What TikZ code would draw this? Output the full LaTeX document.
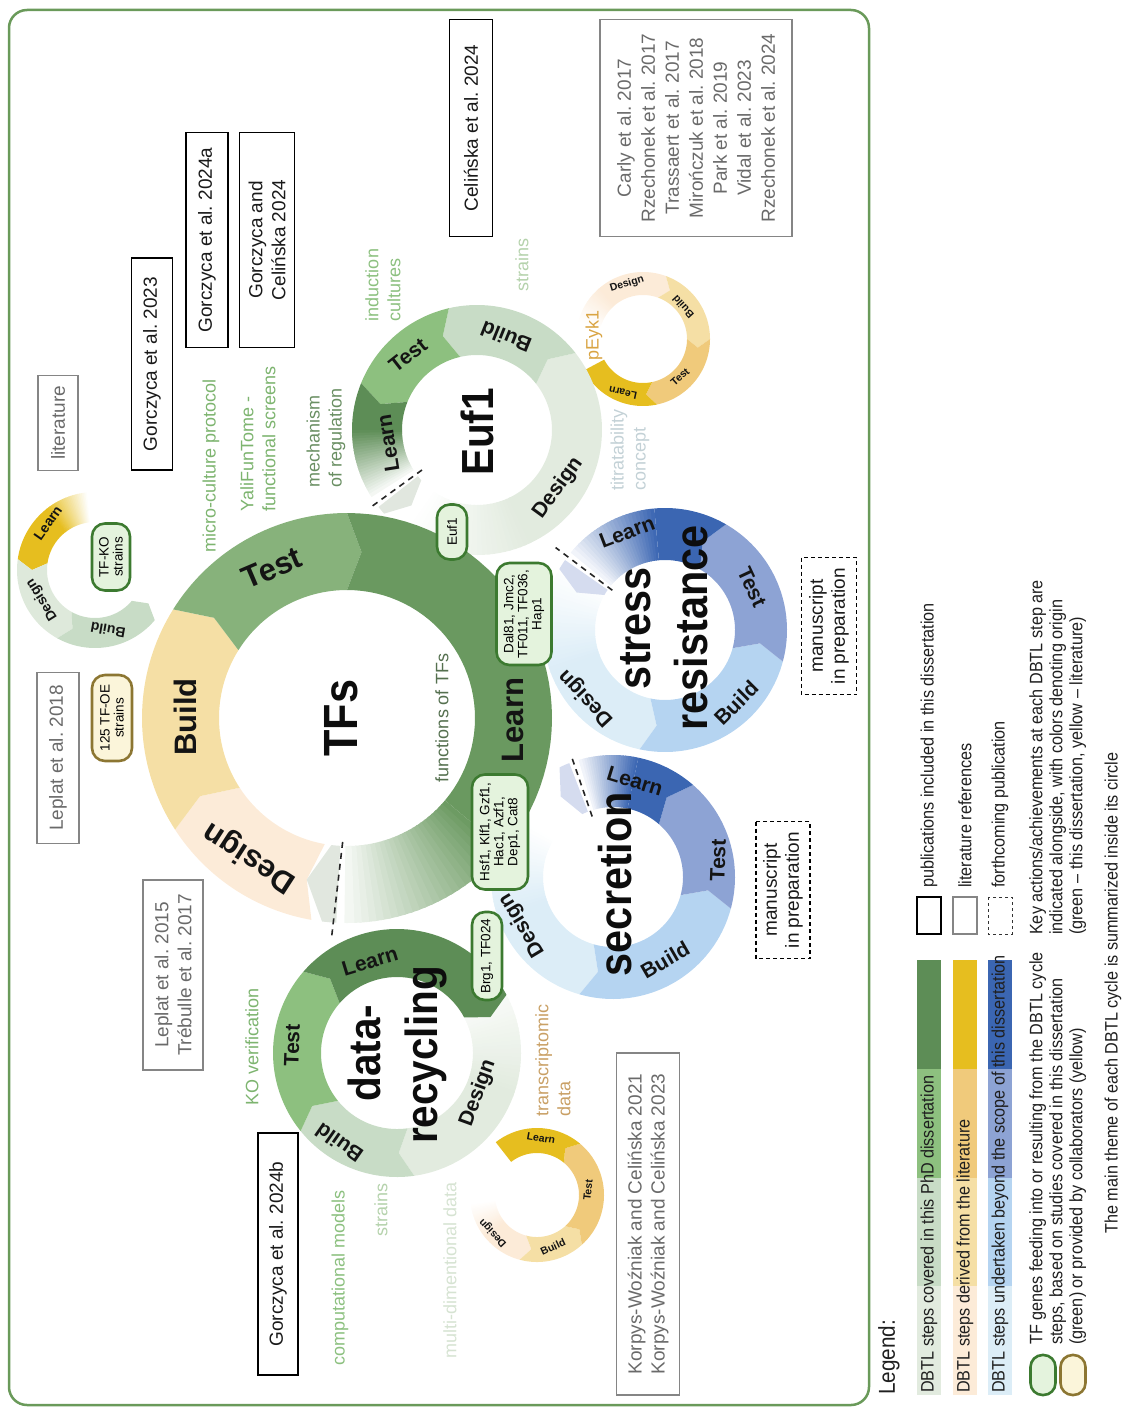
\documentclass[tikz,border=0pt]{standalone}
\usepackage{fontspec}
\setmainfont{Liberation Sans}
\newfontfamily\legfont{Liberation Sans}[FakeStretch=0.9]
\newfontfamily\themefont{Liberation Sans}[FakeStretch=0.9]
\frenchspacing

\definecolor{frameG}{HTML}{6A9A5A}
\definecolor{gD}{HTML}{E2EBDF}
\definecolor{gB}{HTML}{C8DCC6}
\definecolor{gT}{HTML}{8DC07F}
\definecolor{gL}{HTML}{5D8D56}
\definecolor{tfT}{HTML}{87B27B}
\definecolor{tfL}{HTML}{6A9960}
\definecolor{yD}{HTML}{FCEBD8}
\definecolor{yB}{HTML}{F5DFA5}
\definecolor{yT}{HTML}{F0CA7B}
\definecolor{yL}{HTML}{E6BE1F}
\definecolor{bD}{HTML}{DCEDF7}
\definecolor{bB}{HTML}{B5D4F1}
\definecolor{bT}{HTML}{8DA3D4}
\definecolor{bL}{HTML}{3B66B2}
\definecolor{ghostG}{HTML}{E1E7DF}
\definecolor{ghostB}{HTML}{D5DCEF}
\definecolor{pillGd}{HTML}{3C7A30}
\definecolor{pillGf}{HTML}{E4F3DD}
\definecolor{pillYd}{HTML}{8C7632}
\definecolor{pillYf}{HTML}{FBF5DA}
\definecolor{litBorder}{HTML}{858585}
\definecolor{litText}{HTML}{6A6A6A}
\definecolor{noteA}{HTML}{7DB46F}
\definecolor{noteB}{HTML}{8CC07F}
\definecolor{noteC}{HTML}{6A8F63}
\definecolor{notePale}{HTML}{B5D2AC}
\definecolor{noteVpale}{HTML}{D6E3D2}
\definecolor{noteOr}{HTML}{D9A443}
\definecolor{noteTit}{HTML}{C3D1D6}
\definecolor{noteDark}{HTML}{55704F}
\definecolor{noteTan}{HTML}{C9A065}

% Annular chevron segment.
% #1,#2 centre; #3 inner radius; #4 outer radius; #5 start angle; #6 end angle
% (angles grow clockwise on the page); #7 notch depth at the start;
% #8 tip length at the end (degrees); #9 fill colour
\newcommand\ringseg[9]{%
  \pgfmathsetmacro\segmid{(#3+#4)/2}%
  \pgfmathsetmacro\segsgn{(#6>#5) ? 1 : -1}%
  \pgfmathsetmacro\segtipA{#5+\segsgn*#7}%
  \pgfmathsetmacro\segtipB{#6+\segsgn*#8}%
  \fill[#9] plot[domain=#5:#6,samples=40] ({#1+#4*cos(\x)},{#2+#4*sin(\x)})
    -- ({#1+\segmid*cos(\segtipB)},{#2+\segmid*sin(\segtipB)})
    -- plot[domain=#6:#5,samples=40] ({#1+#3*cos(\x)},{#2+#3*sin(\x)})
    -- ({#1+\segmid*cos(\segtipA)},{#2+\segmid*sin(\segtipA)}) -- cycle;%
}
% Annular band whose colour runs from #8 % to #9 % of colour #7 (rest white)
\newcommand\ringfade[9]{%
  \foreach \k in {0,...,23}{%
    \pgfmathsetmacro\fadeA{#5+(#6-(#5))*\k/24}%
    \pgfmathsetmacro\fadeB{#5+(#6-(#5))*(\k+1.35)/24}%
    \pgfmathsetmacro\fadeP{#8+(#9-(#8))*(\k+0.5)/24}%
    \fill[#7!\fadeP!white] plot[domain=\fadeA:\fadeB,samples=5] ({#1+#4*cos(\x)},{#2+#4*sin(\x)})
      -- plot[domain=\fadeB:\fadeA,samples=5] ({#1+#3*cos(\x)},{#2+#3*sin(\x)}) -- cycle;%
  }%
}

\begin{document}
\begin{tikzpicture}[x=1pt,y=-1pt,
  refbox/.style={draw=black, line width=1.3pt, rotate=90, align=center, inner sep=0pt,
    text=black!90, font=\fontsize{19}{23}\selectfont},
  litbox/.style={refbox, draw=litBorder, text=litText},
  litlist/.style={litbox, font=\fontsize{19}{24}\selectfont},
  msbox/.style={refbox, dash pattern=on 4pt off 3pt, line width=1.2pt, font=\fontsize{19}{22}\selectfont},
  annot/.style={rotate=90, inner sep=0pt, align=left, font=\fontsize{18}{22}\selectfont},
  pillbase/.style={rotate=90, rectangle, rounded corners=13pt, line width=2.6pt, align=center,
    inner sep=1pt, font=\fontsize{13.5}{14}\selectfont},
  pillG/.style={pillbase, draw=pillGd, fill=pillGf},
  pillY/.style={pillbase, draw=pillYd, fill=pillYf},
  biglab/.style={inner sep=0pt, text=black!92, font=\bfseries\fontsize{31}{34}\selectfont},
  midlab/.style={inner sep=0pt, text=black!92, font=\bfseries\fontsize{21}{24}\selectfont},
  smalllab/.style={inner sep=0pt, text=black!92, font=\bfseries\fontsize{14}{16}\selectfont},
  tinylab/.style={inner sep=0pt, text=black!92, font=\bfseries\fontsize{10.5}{12}\selectfont},
  theme/.style={rotate=90, anchor=base, inner sep=0pt, text=black!95},
  cutline/.style={draw=black!85, line width=1.6pt, dash pattern=on 6pt off 5pt},
  legtext/.style={rotate=90, inner sep=0pt, text=black!88, font=\legfont\fontsize{18}{20}\selectfont}
]
\useasboundingbox (0,0) rectangle (1129,1407);

% outer frame
\draw[frameG, line width=2.5pt, rounded corners=18pt] (9,10) rectangle (869,1405);

% ---------- small literature/dissertation rings ----------
% ring beside the TF-KO strains
\ringfade{95}{570}{48}{78}{264}{232}{yL}{0}{100}
\ringseg{95}{570}{48}{78}{232}{188}{0}{8}{yL}
\ringseg{95}{570}{48}{78}{188}{119}{8}{8}{gD!85!gB}
\ringseg{95}{570}{48}{78}{119}{40}{8}{8}{gB}
% pEyk1 ring
\ringfade{643}{339}{44}{67}{-165}{-130}{yD}{0}{100}
\ringseg{643}{339}{44}{67}{-130}{-70}{0}{9}{yD}
\ringseg{643}{339}{44}{67}{-70}{0}{9}{9}{yB}
\ringseg{643}{339}{44}{67}{0}{78}{9}{9}{yT}
\ringseg{643}{339}{44}{67}{78}{152}{9}{0}{yL}
% transcriptomic data ring
\ringfade{537}{1195}{42}{67}{172}{140}{yD}{0}{100}
\ringseg{537}{1195}{42}{67}{140}{105}{0}{9}{yD}
\ringseg{537}{1195}{42}{67}{105}{48}{9}{9}{yB}
\ringseg{537}{1195}{42}{67}{48}{-50}{9}{9}{yT}
\ringseg{537}{1195}{42}{67}{-50}{-128}{9}{0}{yL}

% ---------- Euf1 ring ----------
\ringfade{477}{430}{75}{125}{125}{65}{gD}{0}{100}
\ringseg{477}{430}{75}{125}{65}{-38}{0}{7}{gD}
\ringseg{477}{430}{75}{125}{-38}{-103}{7}{7}{gB}
\ringseg{477}{430}{75}{125}{-103}{-158}{7}{7}{gT}
\ringseg{477}{430}{75}{125}{-158}{-180}{7}{0}{gL}
\ringfade{477}{430}{75}{125}{-180}{-212}{gL}{100}{5}
\ringseg{477}{430}{75}{125}{-218}{-222}{0}{7}{ghostG}

% ---------- stress resistance ring ----------
\ringfade{665}{630}{70}{122}{212}{160}{bD}{0}{100}
\ringseg{665}{630}{70}{122}{160}{102}{0}{7}{bD}
\ringseg{665}{630}{70}{122}{102}{15}{7}{7}{bB}
\ringseg{665}{630}{70}{122}{15}{-60}{7}{7}{bT}
\ringseg{665}{630}{70}{122}{-60}{-95}{7}{0}{bL}
\ringfade{665}{630}{70}{122}{-95}{-140}{bL}{100}{5}
\ringseg{665}{630}{70}{122}{-145}{-150}{0}{7}{ghostB}

% ---------- secretion ring ----------
\ringfade{613}{877}{70}{122}{212}{160}{bD}{0}{100}
\ringseg{613}{877}{70}{122}{160}{106}{0}{7}{bD}
\ringseg{613}{877}{70}{122}{106}{15}{7}{7}{bB}
\ringseg{613}{877}{70}{122}{15}{-49}{7}{7}{bT}
\ringseg{613}{877}{70}{122}{-49}{-78}{7}{0}{bL}
\ringfade{613}{877}{70}{122}{-78}{-106}{bL}{100}{5}
\ringseg{613}{877}{70}{122}{-111}{-116}{0}{7}{ghostB}

% ---------- data-recycling ring ----------
\ringfade{397}{1053}{76}{124}{-28}{20}{gD}{25}{100}
\ringseg{397}{1053}{76}{124}{20}{82}{0}{7}{gD}
\ringseg{397}{1053}{76}{124}{82}{141}{7}{7}{gB}
\ringseg{397}{1053}{76}{124}{141}{221}{7}{7}{gT}
\ringseg{397}{1053}{76}{124}{221}{332}{7}{7}{gL}

% ---------- central TFs ring ----------
\ringseg{347}{718}{128}{205}{100}{147}{4}{5}{yD}
\ringseg{347}{718}{128}{205}{147}{212}{5}{5}{yB}
\ringseg{347}{718}{128}{205}{212}{270}{5}{5}{tfT}
\ringseg{347}{718}{128}{205}{270}{400}{5}{0}{tfL}
\ringfade{347}{718}{128}{205}{400}{450}{tfL}{100}{6}
\ringseg{347}{718}{128}{205}{453}{457}{0}{7}{ghostG}

% cycle boundaries
\coordinate (tfsCutA) at ({347+124*cos(92)},{718+124*sin(92)});
\coordinate (tfsCutB) at ({347+218*cos(94)},{718+218*sin(94)});
\coordinate (eufCutA) at ({477+68*cos(144)},{430+68*sin(144)});
\coordinate (eufCutB) at ({477+132*cos(144)},{430+132*sin(144)});
\coordinate (strCutA) at ({665+66*cos(-143)},{630+66*sin(-143)});
\coordinate (strCutB) at ({665+137*cos(-143)},{630+137*sin(-143)});
\coordinate (secCutA) at ({613+64*cos(-109)},{877+64*sin(-109)});
\coordinate (secCutB) at ({613+128*cos(-109)},{877+128*sin(-109)});
\draw[cutline] (tfsCutA) -- (tfsCutB);
\draw[cutline] (eufCutA) -- (eufCutB);
\draw[cutline] (strCutA) -- (strCutB);
\draw[cutline] (secCutA) -- (secCutB);

% ---------- step labels ----------
\node[biglab, rotate=90]  (tfsBuild)  at (185,717) {Build};
\node[biglab, rotate=23]  (tfsTest)   at (272,568) {Test};
\node[biglab, rotate=90]  (tfsLearn)  at (513,720) {Learn};
\node[biglab, rotate=147] (tfsDesign) at (250,857) {Design};

\node[midlab, rotate=99]  (eufLearn)  at (388,443) {Learn};
\node[midlab, rotate=38]  (eufTest)   at (408,355) {Test};
\node[midlab, rotate=158] (eufBuild)  at (506,337) {Build};
\node[midlab, rotate=54]  (eufDesign) at (558,488) {Design};

\node[midlab, rotate=21]  (strLearn)  at (627,532) {Learn};
\node[midlab, rotate=-65] (strTest)   at (752,587) {Test};
\node[midlab, rotate=45]  (strBuild)  at (736,703) {Build};
\node[midlab, rotate=133] (strDesign) at (586,698) {Design};

\node[midlab, rotate=-17] (secLearn)  at (635,781) {Learn};
\node[midlab, rotate=88]  (secTest)   at (718,860) {Test};
\node[midlab, rotate=30]  (secBuild)  at (665,960) {Build};
\node[midlab, rotate=121] (secDesign) at (522,925) {Design};

\node[midlab, rotate=17]  (drLearn)   at (370,961) {Learn};
\node[midlab, rotate=88]  (drTest)    at (292,1045) {Test};
\node[midlab, rotate=145] (drBuild)   at (339,1143) {Build};
\node[midlab, rotate=70]  (drDesign)  at (478,1093) {Design};

\node[smalllab, rotate=55]  (koLearn)  at (48,523) {Learn};
\node[smalllab, rotate=122] (koDesign) at (42,600) {Design};
\node[smalllab, rotate=170] (koBuild)  at (108,630) {Build};

\node[tinylab, rotate=17]  (pyDesign) at (627,284) {Design};
\node[tinylab, rotate=132] (pyBuild)  at (683,307) {Build};
\node[tinylab, rotate=42]  (pyTest)   at (680,377) {Test};
\node[tinylab, rotate=168] (pyLearn)  at (623,393) {Learn};

\node[tinylab, rotate=-10] (trLearn)  at (541,1138) {Learn};
\node[tinylab, rotate=84]  (trTest)   at (588,1190) {Test};
\node[tinylab, rotate=25]  (trBuild)  at (553,1247) {Build};
\node[tinylab, rotate=133] (trDesign) at (493,1233) {Design};

% ---------- cycle themes ----------
\node[theme, font=\themefont\bfseries\fontsize{48}{52}\selectfont] (thTFs) at (357,718) {TFs};
\node[theme, font=\themefont\bfseries\fontsize{45}{49}\selectfont] (thEuf) at (493,432) {Euf1};
\node[theme, font=\themefont\bfseries\fontsize{46}{50}\selectfont] (thStress) at (650,628) {stress};
\node[theme, font=\themefont\bfseries\fontsize{46}{50}\selectfont] (thResist) at (707,628) {resistance};
\node[theme, font=\themefont\bfseries\fontsize{46}{50}\selectfont] (thSecr) at (631,884) {secretion};
\node[theme, font=\themefont\bfseries\fontsize{45}{49}\selectfont] (thData) at (380,1053) {data-};
\node[theme, font=\themefont\bfseries\fontsize{45}{49}\selectfont] (thRecyc) at (437,1055) {recycling};

% ---------- TF gene pills ----------
\node[pillG, minimum width=55, minimum height=30] (pEuf) at (452,532) {Euf1};
\node[pillG, minimum width=102, minimum height=55] (pDal) at (524,614) {Dal81, Jmc2,\\TF011, TF036,\\Hap1};
\node[pillG, minimum width=115, minimum height=56] (pHsf) at (500,832) {Hsf1, Klf1, Gzf1,\\Hac1, Azf1,\\Dep1, Cat8};
\node[pillG, minimum width=88, minimum height=30] (pBrg) at (487,956) {Brg1, TF024};
\node[pillG, minimum width=67, minimum height=38] (pKO) at (111,557) {TF-KO\\strains};
\node[pillY, minimum width=86, minimum height=40] (pOE) at (112,718) {125 TF-OE\\strains};

% ---------- references ----------
\node[litbox, minimum width=95, minimum height=40] (refLit) at (58,423) {literature};
\node[refbox, minimum width=212, minimum height=41] (refG23) at (152,364) {Gorczyca et al. 2023};
\node[refbox, minimum width=215, minimum height=42] (refG24a) at (207,240) {Gorczyca et al. 2024a};
\node[refbox, minimum width=215, minimum height=55] (refGC24) at (267,240) {Gorczyca and\\Celińska 2024};
\node[refbox, minimum width=217, minimum height=43] (refC24) at (471,128) {Celińska et al. 2024};
\node[litlist, minimum width=217, minimum height=192] (refList) at (696,128)
  {Carly et al. 2017\\Rzechonek et al. 2017\\Trassaert et al. 2017\\Mirończuk et al. 2018\\Park et al. 2019\\Vidal et al. 2023\\Rzechonek et al. 2024};
\node[litbox, minimum width=171, minimum height=42] (refL18) at (58,758) {Leplat et al. 2018};
\node[litbox, minimum width=190, minimum height=60] (refL15) at (173,975) {Leplat et al. 2015\\Trébulle et al. 2017};
\node[refbox, minimum width=242, minimum height=40] (refG24b) at (278,1254) {Gorczyca et al. 2024b};
\node[litbox, minimum width=342, minimum height=63] (refKW) at (648,1224)
  {Korpys-Woźniak and Celińska 2021\\Korpys-Woźniak and Celińska 2023};
\node[msbox, minimum width=137, minimum height=55] (msStress) at (829,626) {manuscript\\in preparation};
\node[msbox, minimum width=137, minimum height=54] (msSecr) at (783,890) {manuscript\\in preparation};

% ---------- key actions ----------
\node[annot, text=noteA] (nMicro) at (211,466) {micro-culture protocol};
\node[annot, text=noteA] (nYali) at (258,439) {YaliFunTome -\\functional screens};
\node[annot, text=noteC] (nMech) at (326,438) {mechanism\\of regulation};
\node[annot, text=noteB] (nInd) at (383,285) {induction\\cultures};
\node[annot, text=notePale] (nStrA) at (522,265) {strains};
\node[annot, text=noteOr] (nPeyk) at (594,335) {pEyk1};
\node[annot, text=noteTit] (nTitr) at (630,450) {titratability\\concept};
\node[annot, text=noteDark] (nFunc) at (442,718) {functions of TFs};
\node[annot, text=noteA] (nKO) at (252,1047) {KO verification};
\node[annot, text=noteB] (nComp) at (340,1278) {computational models};
\node[annot, text=notePale] (nStrB) at (381,1210) {strains};
\node[annot, text=noteVpale] (nMulti) at (450,1270) {multi-dimentional data};
\node[annot, text=noteTan] (nTrans) at (553,1060) {transcriptomic\\data};

% ---------- legend ----------
\node[legtext, anchor=west, font=\legfont\fontsize{23}{26}\selectfont] (legHead) at (889,1395) {Legend:};
\foreach \c [count=\i from 0] in {gD,gB,gT,gL}
  \fill[\c] (917,{1395-\i*108.75}) rectangle (941,{1395-(\i+1)*108.75});
\foreach \c [count=\i from 0] in {yD,yB,yT,yL}
  \fill[\c] (953,{1395-\i*108.75}) rectangle (977,{1395-(\i+1)*108.75});
\foreach \c [count=\i from 0] in {bD,bB,bT,bL}
  \fill[\c] (988,{1395-\i*108.75}) rectangle (1012,{1395-(\i+1)*108.75});
\node[legtext, anchor=west] (legG) at (929,1393) {DBTL steps covered in this PhD dissertation};
\node[legtext, anchor=west] (legY) at (965,1393) {DBTL steps derived from the literature};
\node[legtext, anchor=west] (legB) at (1000,1393) {DBTL steps undertaken beyond the scope of this dissertation};

\draw[black, line width=1.2pt] (917,897) rectangle (941,934);
\draw[litBorder, line width=1.2pt] (953,897) rectangle (977,934);
\draw[black!80, line width=1pt, dash pattern=on 3pt off 3pt] (988,897) rectangle (1012,934);
\node[legtext, anchor=west] (legPub) at (929,888) {publications included in this dissertation};
\node[legtext, anchor=west] (legLit) at (965,888) {literature references};
\node[legtext, anchor=west] (legFut) at (1000,888) {forthcoming publication};

\node[pillG, minimum width=40, minimum height=25, rounded corners=12pt] (legPillG) at (1043,1375) {};
\node[pillY, minimum width=40, minimum height=25, rounded corners=12pt] (legPillY) at (1073,1375) {};
\node[legtext, anchor=north west, align=left] (legGenes) at (1029,1345)
  {TF genes feeding into or resulting from the DBTL cycle\\steps, based on studies covered in this dissertation\\(green) or provided by collaborators (yellow)};
\node[legtext, anchor=north west, align=left] (legKey) at (1029,935)
  {Key actions/achievements at each DBTL step are\\indicated alongside, with colors denoting origin\\(green – this dissertation, yellow – literature)};
\node[legtext] (legTheme) at (1113,993) {The main theme of each DBTL cycle is summarized inside its circle};
\end{tikzpicture}
\end{document}
